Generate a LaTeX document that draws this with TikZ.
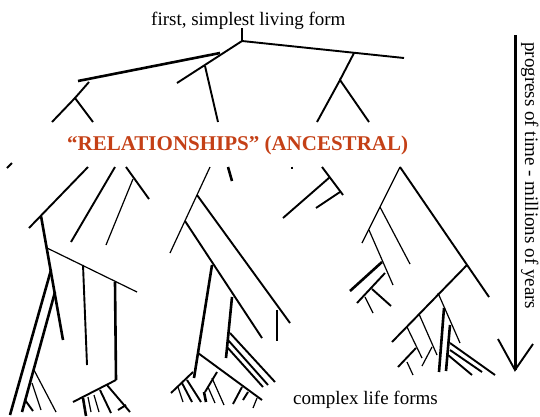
\documentclass[tikz,border=0pt]{standalone}
\usepackage{fontspec}
\setmainfont{Liberation Serif}
\definecolor{relred}{RGB}{196,64,22}
\tikzset{
  bt/.style={line width=1.2bp},
  bm/.style={line width=1.9bp},
  bk/.style={line width=2.6bp},
  lbl/.style={inner sep=0pt, anchor=base west, font=\fontsize{19bp}{23bp}\selectfont},
  rel/.style={inner sep=0pt, anchor=base west, text=relred, font=\fontsize{21bp}{25bp}\selectfont\bfseries}
}
\begin{document}
\begin{tikzpicture}[x=1bp,y=-1bp]
\useasboundingbox (0,0) rectangle (540,416);
% texts
\node[lbl] (top) at (151,25) {first, simplest living form};
\node[rel] (rel) at (67,150.5) {“RELATIONSHIPS” (ANCESTRAL)};
\node[lbl] (bot) at (293,404) {complex life forms};
\node[lbl, rotate=-90] (time) at (525,42) {progress of time - millions of years};
% arrow
\coordinate (a1) at (515,35);
\coordinate (a2) at (515,370);
\draw[line width=3bp] (a1) -- (a2);
\draw[bm] (498,339) -- (a2) -- (533,344);
% top tree
\draw[bm] (242,28) -- (242,41);
\draw[bm] (242,41) -- (404,58);
\draw[bm] (242,41) -- (177,83);
\draw[bk] (78,81) -- (220,53);
\draw[bm] (205,66) -- (218,122);
\draw[bm] (89,82) -- (75,98);
\draw[bm] (52,122) -- (75,98) -- (93,122);
\draw[bm] (354,53) -- (340,80);
\draw[bm] (317,122) -- (340,80) -- (369,122);
% left group
\draw[bm] (7,168) -- (12,163);
\draw[bm] (88,167) -- (29,228);
\draw[bk] (41,216) -- (63,340);
\draw[bm] (115,167) -- (71,242);
\draw[bm] (126,167) -- (149,199);
\draw[bt] (133,179) -- (106,245);
\draw[bt] (47,248) -- (137,292);
\draw[bm] (83,265) -- (87,365);
\draw[bk] (115,282) -- (116,380);
\draw[bm] (116,380) -- (73,402);
\draw[bk] (83,398) -- (86,416);
\draw[bt] (88,397) -- (91,412);
\draw[bt] (94,395) -- (99,412);
\draw[bm] (100,390) -- (111,413);
\draw[bm] (107,385) -- (130,412);
\draw[bm] (118,410) -- (126,405);
\draw[bk] (51,270) -- (10,415);
\draw[bk] (55,292) -- (22,412);
\draw[bm] (25,400) -- (33,411);
\draw[bt] (32,383) -- (41,410);
\draw[bt] (34,370) -- (56,412);
% centre group
\draw[bt] (210,167) -- (170,253);
\draw[bk] (228,167) -- (232,181);
\draw[bm] (197,195) -- (290,323);
\draw[bm] (185,221) -- (262,338);
\draw[bk] (212,265) -- (194,378);
\draw[bk] (232,297) -- (226,358);
\draw[bm] (230,333) -- (275,382);
\draw[bm] (228,340) -- (268,385);
\draw[bm] (227,347) -- (263,387);
\draw[bm] (198,353) -- (262,400);
\draw[bm] (193,372) -- (171,393);
\draw[bt] (178,387) -- (183,402);
\draw[bm] (182,383) -- (192,402);
\draw[bm] (187,380) -- (201,402);
\draw[bm] (217,372) -- (205,392);
\draw[bk] (204,392) -- (206,402);
\draw[bt] (208,387) -- (215,403);
\draw[bt] (212,378) -- (224,405);
\draw[bm] (242,387) -- (233,404);
\draw[bm] (248,392) -- (243,400);
\draw[bt] (257,398) -- (253,408);
\draw[bk] (277,310) -- (277,341);
% right-centre group
\draw[bm] (292,166.5) -- (292,169);
\draw[bm] (322,167) -- (343,195);
\draw[bm] (330,177) -- (283,218);
\draw[bm] (340,192) -- (316,208);
% right group
\draw[bt] (400,167) -- (362,243);
\draw[bm] (400,167) -- (489,297);
\draw[bt] (380,207) -- (410,264);
\draw[bt] (369,230) -- (393,285);
\draw[bk] (382,262) -- (350,291);
\draw[bm] (385,273) -- (357,303);
\draw[bm] (372,289) -- (391,306);
\draw[bt] (365,297) -- (373,313);
\draw[bm] (467,265) -- (392,342);
\draw[bt] (438,293) -- (460,343);
\draw[bt] (419,314) -- (437,355);
\draw[bt] (407,327) -- (422,358);
\draw[bm] (416,348) -- (398,367);
\draw[bt] (407,362) -- (413,375);
\draw[bt] (432,347) -- (422,366);
\draw[bk] (444,308) -- (439,372);
\draw[bk] (450,325) -- (446,371);
\draw[bm] (450,343) -- (495,375);
\draw[bm] (450,350) -- (482,372);
\draw[bm] (448,355) -- (472,375);
\end{tikzpicture}
\end{document}
